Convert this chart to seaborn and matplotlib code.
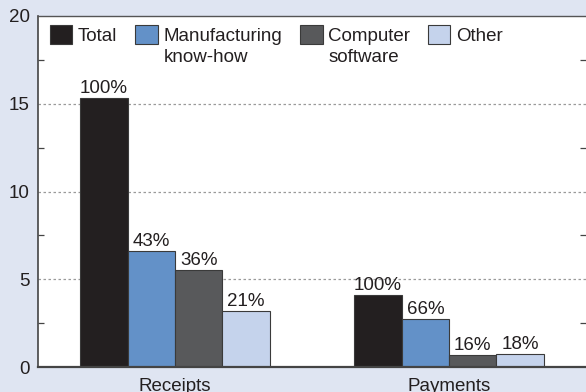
import matplotlib
matplotlib.use("Agg")
import matplotlib.pyplot as plt
from matplotlib.ticker import MultipleLocator
import seaborn as sns
import pandas as pd

# Royalty and licence flows by type (values, shares of total)
flows = ["Receipts", "Payments"]
types = ["Total", "Manufacturing", "Computer", "Other"]
second_lines = {"Manufacturing": "know-how", "Computer": "software"}
receipts = [15.33, 6.63, 5.51, 3.19]
payments = [4.12, 2.72, 0.68, 0.72]
receipts_share = ["100%", "43%", "36%", "21%"]
payments_share = ["100%", "66%", "16%", "18%"]
colors = ["#231f20", "#6391c8", "#58595b", "#c5d3ec"]
yticks = [0, 5, 10, 15, 20]

df = pd.DataFrame({
    "flow": [flows[0]] * len(types) + [flows[1]] * len(types),
    "type": types + types,
    "value": receipts + payments,
})

bg = "#dfe5f2"
spine = "#444444"
fs = 13.5

sns.set_theme(style="white")
plt.rcParams["font.family"] = ["Liberation Sans", "DejaVu Sans"]
plt.rcParams["text.color"] = "#231f20"

fig = plt.figure(figsize=(5.86, 3.92), dpi=100, facecolor=bg)
ax = fig.add_axes([38 / 586, 25 / 392, 1 - 38 / 586, 351 / 392])
ax.set_facecolor("white")

sns.barplot(data=df, x="flow", y="value", hue="type", order=flows,
            hue_order=types, palette=colors, saturation=1, width=0.69,
            edgecolor="#3a3a3a", linewidth=0.8, ax=ax)

for i, cont in enumerate(ax.containers):
    ax.bar_label(cont, labels=[receipts_share[i], payments_share[i]],
                 padding=0.8, fontsize=fs, color="#231f20")

ax.set_xlim(-0.5, 1.5)
ax.set_ylim(yticks[0], yticks[-1])
ax.set_yticks(yticks)
ax.yaxis.set_minor_locator(MultipleLocator(2.5))
ax.set_xlabel("")
ax.set_ylabel("")

ax.tick_params(axis="y", which="major", length=0, pad=6, labelsize=fs,
               labelcolor="#231f20")
ax.tick_params(axis="y", which="minor", direction="in", length=4,
               width=0.9, color=spine, left=True, right=True)
ax.tick_params(axis="x", length=0, pad=8, labelsize=fs, labelcolor="#231f20")

ax.grid(False)
ax.set_axisbelow(True)
for y in yticks[1:-1]:
    ax.axhline(y, color="#9a9a9a", lw=0.9, ls=(0, (2, 2)), zorder=0)

ax.spines["right"].set_visible(False)
ax.spines["left"].set_color(spine)
ax.spines["left"].set_linewidth(1.2)
ax.spines["bottom"].set_color(spine)
ax.spines["bottom"].set_linewidth(1.6)
ax.spines["top"].set_color("#555555")
ax.spines["top"].set_linewidth(1.0)

handles, _ = ax.get_legend_handles_labels()
if ax.get_legend() is not None:
    ax.get_legend().remove()
leg = ax.legend(handles, types, loc="upper left",
                bbox_to_anchor=(12 / 548, 1 - 9 / 351), ncol=4,
                frameon=False, fontsize=fs, handlelength=1.2,
                handleheight=1.2, handletextpad=0.3, columnspacing=0.95,
                borderaxespad=0, borderpad=0)
for txt in leg.get_texts():
    extra = second_lines.get(txt.get_text())
    if extra:
        ax.annotate(extra, xy=(0, 0), xycoords=txt, xytext=(0, -2.7),
                    textcoords="offset points", ha="left", va="top",
                    fontsize=fs, color="#231f20", zorder=6,
                    annotation_clip=False)

fig.savefig("out.png", dpi=100, facecolor=bg)
